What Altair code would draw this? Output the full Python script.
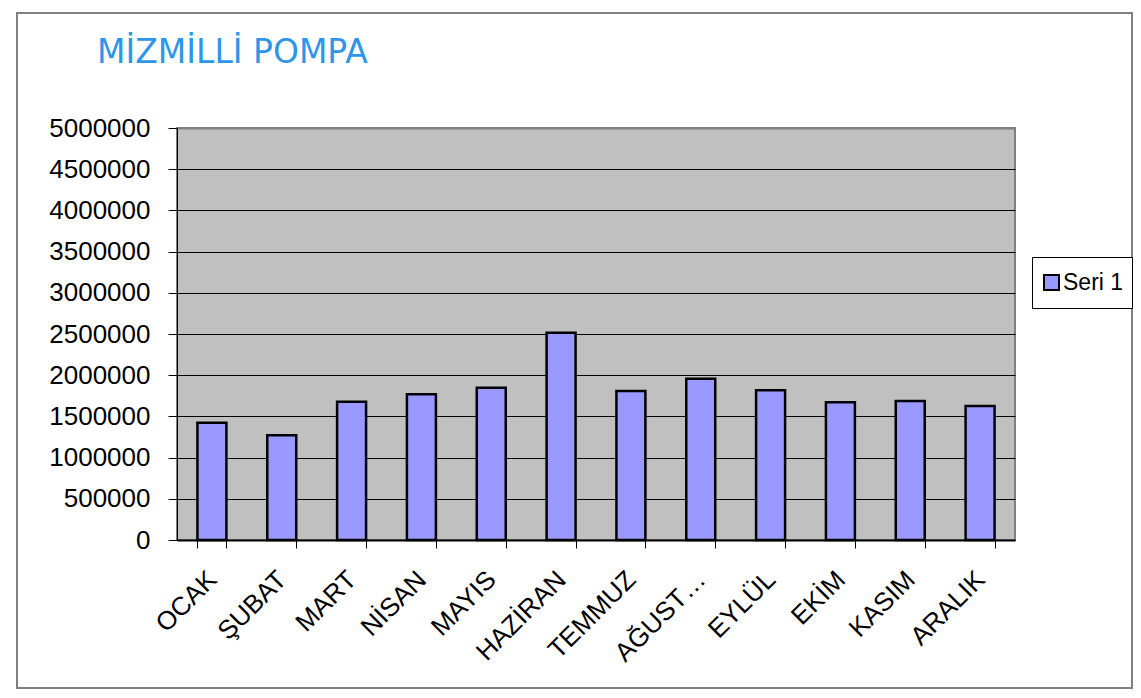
import altair as alt
import pandas as pd

months = ["OCAK", "ŞUBAT", "MART", "NİSAN", "MAYIS", "HAZİRAN",
          "TEMMUZ", "AĞUSTOS", "EYLÜL", "EKİM", "KASIM", "ARALIK"]
values = [1423000, 1271000, 1678000, 1768000, 1849000, 2516000,
          1808000, 1958000, 1816000, 1671000, 1687000, 1626000]
series_name = "Seri 1"
title_text = "MİZMİLLİ POMPA"
y_ticks = [0, 500000, 1000000, 1500000, 2000000, 2500000, 3000000,
           3500000, 4000000, 4500000, 5000000]

df = pd.DataFrame({"ay": months, "deger": values, "seri": [series_name] * len(months)})

FONT = "Liberation Sans"

bars = alt.Chart(df).mark_bar(stroke="black", strokeWidth=2.5).encode(
    x=alt.X("ay:N", sort=months,
            scale=alt.Scale(paddingInner=0.585, paddingOuter=0.2925),
            axis=alt.Axis(title=None, labelAngle=-45, labelAlign="right",
                          labelBaseline="top", labelOffset=-9, labelPadding=18,
                          labelFont=FONT, labelFontSize=26, labelColor="black",
                          labelLimit=118, tickBand="extent", tickSize=8,
                          tickColor="black", domainColor="black", domainWidth=2,
                          grid=False, labelOverlap=False)),
    y=alt.Y("deger:Q", scale=alt.Scale(domain=[0, 5000000], nice=False),
            axis=alt.Axis(title=None, values=y_ticks, format="d",
                          labelFont=FONT, labelFontSize=26, labelColor="black",
                          labelPadding=18, tickSize=9, tickColor="black",
                          domainColor="black",
                          gridColor={"condition": {"test": "datum.value >= 5000000",
                                                   "value": "#808080"},
                                     "value": "black"},
                          gridWidth={"condition": {"test": "datum.value >= 5000000",
                                                   "value": 2},
                                     "value": 1},
                          gridOpacity=1)),
    color=alt.Color("seri:N", scale=alt.Scale(range=["#9999FF"]),
                    legend=alt.Legend(title=None, orient="none", legendX=855,
                                      legendY=129, strokeColor="black",
                                      fillColor="white", padding=8,
                                      clipHeight=35,
                                      symbolType="square", symbolSize=225,
                                      symbolStrokeColor="black",
                                      symbolStrokeWidth=2, symbolOpacity=1,
                                      labelOffset=0,
                                      labelFont=FONT, labelFontSize=23,
                                      labelColor="black")),
)

frame_df = pd.DataFrame({"k": [1]})
frame = alt.Chart(frame_df).mark_rect(fill="white", fillOpacity=0, stroke="#808080",
                                      strokeWidth=2).encode(
    x=alt.value(-160), x2=alt.value(955), y=alt.value(-115), y2=alt.value(560)
)

title_df = pd.DataFrame({"t": [title_text]})
title = alt.Chart(title_df).mark_text(align="left", baseline="alphabetic",
                                      font="DejaVu Sans", fontSize=33,
                                      color="#2E96EA").encode(
    x=alt.value(-80), y=alt.value(-65), text="t:N"
)

chart = alt.layer(frame, bars, title).properties(
    width=838, height=412,
    padding={"left": 169, "top": 120, "right": 118, "bottom": 150},
    autosize=alt.AutoSizeParams(type="none"),
    background="white",
).configure_view(fill="#C0C0C0", stroke="#808080", strokeWidth=2)

chart.save("out.html", embed_options={"renderer": "svg", "actions": False})
